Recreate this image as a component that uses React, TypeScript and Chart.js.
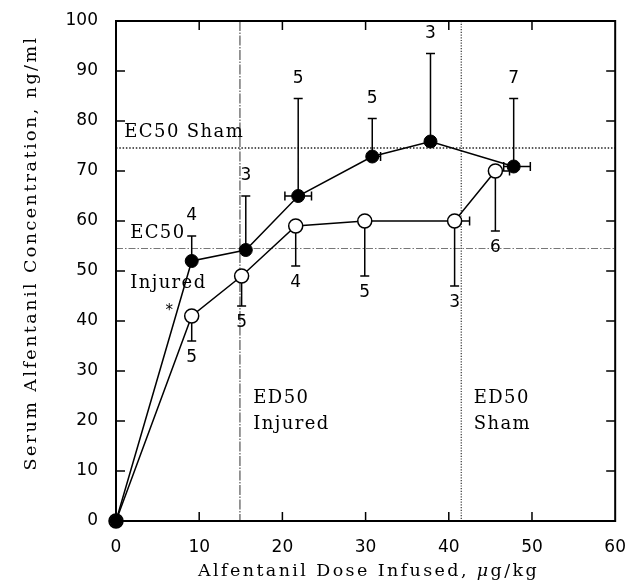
import React, { useEffect, useRef } from 'react';
import { Chart, registerables } from 'chart.js';

Chart.register(...registerables);

// ---- data ----
const xTickValues = [0, 10, 20, 30, 40, 50, 60];
const yTickValues = [0, 10, 20, 30, 40, 50, 60, 70, 80, 90, 100];

// filled circles
const filledDose = [0, 9.1, 15.6, 21.9, 30.8, 37.8, 47.8];
const filledConc = [0, 52, 54.2, 65, 72.9, 75.9, 70.9];
const filledUpper = [null, 57, 65, 84.5, 80.5, 93.5, 84.5];
const filledDoseLo = [null, null, null, 20.3, null, null, 46.6];
const filledDoseHi = [null, null, null, 23.5, 31.8, null, 49.8];
const filledN = ['', '4', '3', '5', '5', '3', '7'];

// open circles
const openDose = [0, 9.1, 15.1, 21.6, 29.9, 40.7, 45.6];
const openConc = [0, 41, 49, 59, 60, 60, 70];
const openLower = [null, 36, 43, 51, 49, 47, 58];
const openDoseHi = [null, null, null, null, null, 42.5, 47.3];
const openN = ['', '5', '5', '4', '5', '3', '6'];

// reference lines
const ec50Sham = 74.6;
const ec50Injured = 54.5;
const ed50Injured = 14.9;
const ed50Sham = 41.5;

const xTitleParts = ['Alfentanil Dose Infused, ', 'μ', 'g/kg'];
const yTitle = 'Serum Alfentanil Concentration, ng/ml';

const SERIF = '"DejaVu Serif", serif';
const SANS = '"DejaVu Sans", sans-serif';

function spacedText(ctx: CanvasRenderingContext2D, text: string, x: number, y: number, spacing: number) {
  (ctx as any).letterSpacing = spacing + 'px';
  ctx.fillText(text, x, y);
  (ctx as any).letterSpacing = '0px';
}

const decor = {
  id: 'decor',
  beforeDatasetsDraw(chart: any) {
    const { ctx, chartArea: a, scales } = chart;
    const x = scales.x;
    const y = scales.y;
    ctx.save();
    ctx.strokeStyle = '#000';
    ctx.lineCap = 'butt';

    // reference lines
    ctx.lineWidth = 1.6;
    ctx.strokeStyle = '#222';
    ctx.setLineDash([1.5, 1.8]);
    let py = y.getPixelForValue(ec50Sham);
    ctx.beginPath(); ctx.moveTo(a.left, py); ctx.lineTo(a.right, py); ctx.stroke();

    ctx.lineWidth = 1;
    ctx.strokeStyle = '#777';
    ctx.setLineDash([7, 2, 1.5, 2]);
    py = y.getPixelForValue(ec50Injured);
    ctx.beginPath(); ctx.moveTo(a.left, py); ctx.lineTo(a.right, py); ctx.stroke();

    ctx.lineWidth = 1;
    ctx.strokeStyle = '#333';
    ctx.setLineDash([10, 1.5, 1.5, 1.5]);
    let px = x.getPixelForValue(ed50Injured);
    ctx.beginPath(); ctx.moveTo(px, a.top); ctx.lineTo(px, a.bottom); ctx.stroke();

    ctx.lineWidth = 1.3;
    ctx.strokeStyle = '#444';
    ctx.setLineDash([1.2, 1.5]);
    px = x.getPixelForValue(ed50Sham);
    ctx.beginPath(); ctx.moveTo(px, a.top); ctx.lineTo(px, a.bottom); ctx.stroke();

    ctx.setLineDash([]);

    // frame
    ctx.strokeStyle = '#000';
    ctx.lineWidth = 2;
    ctx.strokeRect(a.left, a.top, a.right - a.left, a.bottom - a.top);

    // inward ticks
    const tl = 9;
    ctx.lineWidth = 1.5;
    ctx.beginPath();
    for (const v of xTickValues) {
      if (v === xTickValues[0] || v === xTickValues[xTickValues.length - 1]) continue;
      const p = x.getPixelForValue(v);
      ctx.moveTo(p, a.bottom); ctx.lineTo(p, a.bottom - tl);
      ctx.moveTo(p, a.top); ctx.lineTo(p, a.top + tl);
    }
    for (const v of yTickValues) {
      if (v === yTickValues[0] || v === yTickValues[yTickValues.length - 1]) continue;
      const p = y.getPixelForValue(v);
      ctx.moveTo(a.left, p); ctx.lineTo(a.left + tl, p);
      ctx.moveTo(a.right, p); ctx.lineTo(a.right - tl, p);
    }
    ctx.stroke();

    // error bars
    const cap = 4.5;
    ctx.lineWidth = 1.5;
    ctx.beginPath();
    const vbar = (dx: number, y0: number, y1: number) => {
      const X = x.getPixelForValue(dx);
      const Y0 = y.getPixelForValue(y0);
      const Y1 = y.getPixelForValue(y1);
      ctx.moveTo(X, Y0); ctx.lineTo(X, Y1);
      ctx.moveTo(X - cap, Y1); ctx.lineTo(X + cap, Y1);
    };
    const hbar = (x0: number, x1: number, cy: number) => {
      const X0 = x.getPixelForValue(x0);
      const X1 = x.getPixelForValue(x1);
      const Y = y.getPixelForValue(cy);
      ctx.moveTo(X0, Y); ctx.lineTo(X1, Y);
      ctx.moveTo(X1, Y - cap); ctx.lineTo(X1, Y + cap);
    };
    filledDose.forEach((d, i) => {
      const u = filledUpper[i];
      if (u != null) vbar(d, filledConc[i], u);
      const lo = filledDoseLo[i];
      const hi = filledDoseHi[i];
      if (lo != null) hbar(d, lo, filledConc[i]);
      if (hi != null) hbar(d, hi, filledConc[i]);
    });
    openDose.forEach((d, i) => {
      const l = openLower[i];
      if (l != null) vbar(d, openConc[i], l);
      const hi = openDoseHi[i];
      if (hi != null) hbar(d, hi, openConc[i]);
    });
    ctx.stroke();
    ctx.restore();
  },
  afterDatasetsDraw(chart: any) {
    const { ctx, chartArea: a, scales } = chart;
    const x = scales.x;
    const y = scales.y;
    ctx.save();
    ctx.fillStyle = '#000';

    // n labels
    ctx.font = `17px ${SANS}`;
    ctx.textAlign = 'center';
    ctx.textBaseline = 'middle';
    filledDose.forEach((d, i) => {
      const u = filledUpper[i];
      if (u == null || !filledN[i]) return;
      ctx.fillText(filledN[i], x.getPixelForValue(d), y.getPixelForValue(u) - 20);
    });
    openDose.forEach((d, i) => {
      const l = openLower[i];
      if (l == null || !openN[i]) return;
      ctx.fillText(openN[i], x.getPixelForValue(d), y.getPixelForValue(l) + 17);
    });

    // annotations
    ctx.textAlign = 'left';
    ctx.textBaseline = 'alphabetic';
    ctx.font = `18px ${SERIF}`;
    const ann = (t: string, dx: number, dy: number) =>
      spacedText(ctx, t, x.getPixelForValue(dx), y.getPixelForValue(dy), 1.4);
    ann('EC50 Sham', 1.0, 76.8);
    ann('EC50', 1.7, 56.6);
    ann('Injured', 1.7, 46.6);
    ann('ED50', 16.5, 23.6);
    ann('Injured', 16.5, 18.4);
    ann('ED50', 43.0, 23.6);
    ann('Sham', 43.0, 18.4);
    ctx.font = `15px ${SANS}`;
    ctx.textAlign = 'center';
    ctx.fillText('*', x.getPixelForValue(6.4), y.getPixelForValue(41.2));

    // x title (fitted letter spacing)
    const normal = `17.5px ${SERIF}`;
    const italic = `italic 17.5px ${SERIF}`;
    const fonts = [normal, italic, normal];
    let raw = 0;
    let nChars = 0;
    xTitleParts.forEach((t, i) => {
      ctx.font = fonts[i];
      raw += ctx.measureText(t).width;
      nChars += [...t].length;
    });
    const targetX = 341;
    const sx = (targetX - raw) / nChars;
    let cx = (a.left + a.right) / 2 - targetX / 2 + 3;
    ctx.textAlign = 'left';
    xTitleParts.forEach((t, i) => {
      ctx.font = fonts[i];
      (ctx as any).letterSpacing = sx + 'px';
      ctx.fillText(t, cx, 576);
      cx += ctx.measureText(t).width;
      (ctx as any).letterSpacing = '0px';
    });

    // y title
    ctx.font = normal;
    const rawY = ctx.measureText(yTitle).width;
    const targetY = 435;
    const sy = (targetY - rawY) / [...yTitle].length;
    ctx.translate(36, 253 + targetY / 2);
    ctx.rotate(-Math.PI / 2);
    ctx.textAlign = 'left';
    spacedText(ctx, yTitle, 0, 0, sy);
    ctx.restore();
  },
};

export default function App() {
  const ref = useRef<HTMLCanvasElement>(null);
  useEffect(() => {
    const canvas = ref.current;
    if (!canvas) return;
    const chart = new Chart(canvas, {
      type: 'scatter',
      data: {
        datasets: [
          {
            label: 'filled',
            data: filledDose.map((d, i) => ({ x: d, y: filledConc[i] })),
            showLine: true,
            borderColor: '#000',
            borderWidth: 1.5,
            pointRadius: 6.5,
            pointBackgroundColor: '#000',
            pointBorderColor: '#000',
            pointBorderWidth: 1,
            clip: false,
          } as any,
          {
            label: 'open',
            data: openDose.map((d, i) => ({ x: d, y: openConc[i] })),
            showLine: true,
            borderColor: '#000',
            borderWidth: 1.5,
            pointRadius: 7,
            pointBackgroundColor: '#fff',
            pointBorderColor: '#000',
            pointBorderWidth: 1.5,
            clip: false,
          } as any,
        ],
      },
      options: {
        animation: false,
        responsive: false,
        maintainAspectRatio: false,
        events: [],
        layout: { padding: { top: 21, right: 16, left: 0, bottom: 0 } },
        plugins: { legend: { display: false }, tooltip: { enabled: false } },
        scales: {
          x: {
            type: 'linear',
            min: 0,
            max: 60,
            afterBuildTicks: (s: any) => { s.ticks = xTickValues.map((v) => ({ value: v })); },
            afterFit: (s: any) => { s.height = 65; },
            grid: { display: false },
            border: { display: false },
            ticks: { font: { family: SANS, size: 17 }, color: '#000', padding: 8, maxRotation: 0 },
          },
          y: {
            type: 'linear',
            min: 0,
            max: 100,
            afterBuildTicks: (s: any) => { s.ticks = yTickValues.map((v) => ({ value: v })); },
            afterFit: (s: any) => { s.width = 116; },
            grid: { display: false },
            border: { display: false },
            ticks: { font: { family: SANS, size: 17 }, color: '#000', padding: 10 },
          },
        },
      },
      plugins: [decor],
    });
    return () => chart.destroy();
  }, []);
  return (
    <div style={{ position: 'fixed', left: 0, top: 0, width: 634, height: 586, background: '#fff' }}>
      <canvas ref={ref} width={634} height={586} style={{ width: 634, height: 586, display: 'block' }} />
    </div>
  );
}
